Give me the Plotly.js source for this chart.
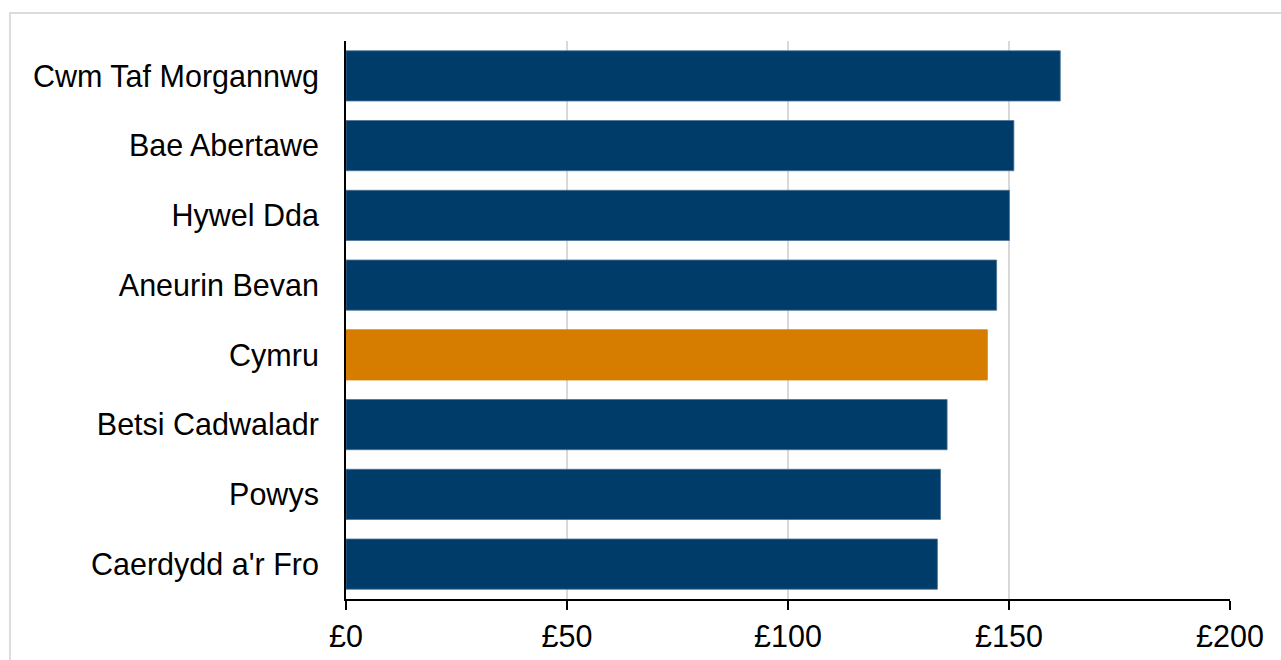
<!DOCTYPE html>
<html>
<head>
<meta charset="utf-8">
<script src="https://cdn.plot.ly/plotly-3.0.1.min.js"></script>
<style>
  html, body { margin: 0; padding: 0; background: #ffffff; overflow: hidden; }
  #frame { position: absolute; left: 9px; top: 12px; width: 1300px; height: 700px;
           border: 2px solid #dcdcdc; box-sizing: border-box; }
  #chart { position: absolute; left: 0; top: 0; width: 1281px; height: 660px; }
</style>
</head>
<body>
<div id="frame"></div>
<div id="chart"></div>
<script>
const categories = ["Cwm Taf Morgannwg", "Bae Abertawe", "Hywel Dda", "Aneurin Bevan",
                    "Cymru", "Betsi Cadwaladr", "Powys", "Caerdydd a'r Fro"];
const values = [161.6, 151.1, 150.1, 147.2, 145.1, 136.0, 134.5, 133.8];
const highlight = "Cymru";
const xTickVals = [0, 50, 100, 150, 200];
const xTickText = ["£0", "£50", "£100", "£150", "£200"];

const colors = categories.map(c => c === highlight ? "#d67d00" : "#003c69");
const lineColors = categories.map(c => c === highlight ? "#d67d00" : "#4d7497");

const trace = {
  type: "bar",
  orientation: "h",
  y: categories,
  x: values,
  marker: { color: colors, line: { color: lineColors, width: 0.8 } },
  hoverinfo: "x+y"
};

const layout = {
  width: 1281,
  height: 660,
  margin: { l: 346, r: 51, t: 41, b: 61 },
  paper_bgcolor: "rgba(0,0,0,0)",
  plot_bgcolor: "rgba(0,0,0,0)",
  showlegend: false,
  bargap: 0.28,
  font: { family: "Liberation Sans, Arial, sans-serif", size: 30.5, color: "#000000" },
  xaxis: {
    range: [0, 200],
    tickvals: xTickVals,
    ticktext: xTickText,
    showgrid: true,
    gridcolor: "#d9d9d9",
    gridwidth: 2,
    zeroline: false,
    showline: true,
    linecolor: "#000000",
    linewidth: 2,
    ticks: "outside",
    ticklen: 9,
    tickwidth: 2,
    tickcolor: "#000000",
    tickfont: { size: 30.5 },
    fixedrange: true
  },
  yaxis: {
    autorange: "reversed",
    showgrid: false,
    zeroline: false,
    showline: true,
    linecolor: "#000000",
    linewidth: 2,
    ticks: "",
    ticklabelstandoff: 19,
    tickfont: { size: 30.5 },
    fixedrange: true
  }
};

Plotly.newPlot("chart", [trace], layout, { displayModeBar: false, staticPlot: true });
</script>
</body>
</html>
